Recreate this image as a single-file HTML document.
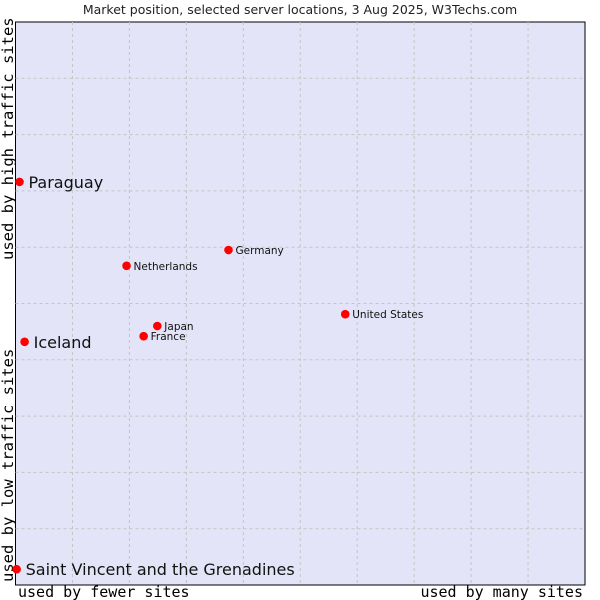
<!DOCTYPE html>
<html><head><meta charset="utf-8"><style>body{margin:0;background:#fff}svg{display:block}</style></head>
<body>
<svg width="600" height="600" xmlns="http://www.w3.org/2000/svg">
<text x="300" y="14" text-anchor="middle" font-family="DejaVu Sans, sans-serif" font-size="12.5" fill="#222">Market position, selected server locations, 3 Aug 2025, W3Techs.com</text>
<rect x="15.5" y="22" width="569.5" height="563" fill="#e4e4f8" stroke="#000"/>
<g id="grid"></g>
<text x="18" y="597" font-family="DejaVu Sans Mono, monospace" font-size="15" fill="#000">used by fewer sites</text>
<text x="583" y="597" text-anchor="end" font-family="DejaVu Sans Mono, monospace" font-size="15" fill="#000">used by many sites</text>
<text transform="translate(13,260) rotate(-90)" font-family="DejaVu Sans Mono, monospace" font-size="15.5" fill="#000">used by high traffic sites</text>
<text transform="translate(13,582) rotate(-90)" font-family="DejaVu Sans Mono, monospace" font-size="15.5" fill="#000">used by low traffic sites</text>
<g id="points"></g>
</svg>
<script>
const names=["Paraguay","Iceland","Saint Vincent and the Grenadines","Netherlands","Germany","United States","Japan","France"];
const xs=[0.7,1.6,0.2,19.5,37.4,57.9,24.9,22.5];
const ys=[71.6,43.2,2.8,56.7,59.5,48.1,46.0,44.2];
const big=[1,1,1,0,0,0,0,0];
const L=15.5,R=585,T=22,B=585;
const sx=v=>L+(R-L)*v/100, sy=v=>B-(B-T)*v/100;
const ns="http://www.w3.org/2000/svg";
const g=document.getElementById('grid');
for(let i=1;i<10;i++){
 const l=document.createElementNS(ns,'line');
 
 
 const x=sx(i*10);l.setAttribute('x1',x);l.setAttribute('x2',x);l.setAttribute('y1',T);l.setAttribute('y2',B);
 l.setAttribute('stroke','#c4c4c4');l.setAttribute('stroke-dasharray','3,3');g.appendChild(l);
 const h=document.createElementNS(ns,'line');
 
 
 const y=sy(i*10);h.setAttribute('x1',L);h.setAttribute('x2',R);h.setAttribute('y1',y);h.setAttribute('y2',y);
 h.setAttribute('stroke','#c4c4c4');h.setAttribute('stroke-dasharray','3,3');g.appendChild(h);
}
const p=document.getElementById('points');
names.forEach((n,i)=>{
 const x=sx(xs[i]),y=sy(ys[i]);
 const d=document.createElementNS(ns,'circle');
 
 
 d.setAttribute('cx',x);d.setAttribute('cy',y);d.setAttribute('r',4.3);
 d.setAttribute('fill','#f00');p.appendChild(d);
 const t=document.createElementNS(ns,'text');
 
 
 t.setAttribute('x',x+(big[i]?9:7));t.setAttribute('y',y+(big[i]?6:4));
 t.setAttribute('font-family','DejaVu Sans, sans-serif');t.setAttribute('font-size',big[i]?16:10.5);
 t.setAttribute('fill','#111');t.textContent=n;p.appendChild(t);
});
</script>
</body></html>
